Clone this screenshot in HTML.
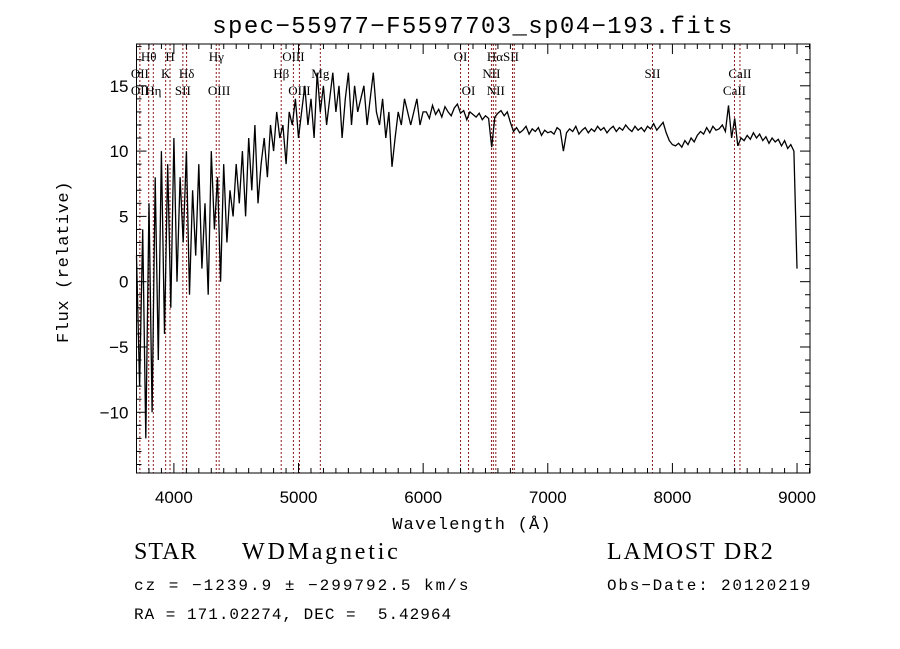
<!DOCTYPE html>
<html><head><meta charset="utf-8"><style>
body{margin:0;background:#fff;width:900px;height:649px;overflow:hidden}
svg{display:block}
text{fill:#000}
</style></head><body>
<svg id="c" width="900" height="649" xmlns="http://www.w3.org/2000/svg">
<text x="473" y="33" text-anchor="middle" font-family="Liberation Mono, monospace" font-size="24" letter-spacing="1.4">spec−55977−F5597703_sp04−193.fits</text>
<text x="472" y="529" text-anchor="middle" font-family="Liberation Mono, monospace" font-size="17" letter-spacing="1.2">Wavelength (Å)</text>
<text transform="translate(68,262) rotate(-90)" text-anchor="middle" font-family="Liberation Mono, monospace" font-size="17" letter-spacing="0.6">Flux (relative)</text>
<text x="134" y="559" font-family="Liberation Serif, serif" font-size="24" letter-spacing="1">STAR</text>
<text x="242" y="559" font-family="Liberation Serif, serif" font-size="24" letter-spacing="2.8">WDMagnetic</text>
<text x="607" y="559" font-family="Liberation Serif, serif" font-size="24" letter-spacing="1.8">LAMOST DR2</text>
<text x="134" y="590" font-family="Liberation Mono, monospace" font-size="16" letter-spacing="2">cz = −1239.9 ± −299792.5 km/s</text>
<text x="607" y="590" font-family="Liberation Mono, monospace" font-size="16" letter-spacing="1.8">Obs−Date: 20120219</text>
<text x="134" y="619" font-family="Liberation Mono, monospace" font-size="16" letter-spacing="1" xml:space="preserve">RA = 171.02274, DEC =  5.42964</text>
<g id="plot"></g>
</svg>
<script>
const wlStart = 3700, wlStep = 25;
const fluxBlue = [2,-8,4,-12,6,-10,8,-6,10,-4,9,-2,11,0,8,3,10,-1,7,2,9,1,6,-1,10,4,8,0,9,3,7,5,9];
const fluxGreen = [6,10,5,11,7,12,6,9,11,8,12,10,13,11,12,9,13,12,14,11,
13,15,12,14,11,16,13,15,12,14,16,13,15,11,14,16,12,15,13,14,15,12,14,16,13,12,14,11,13,8.8,11,13,12,14,13,12,13,14,12,13];
const fluxRed = [13,12.5,13.5,12.8,13.2,12.6,13.4,13,12.7,13.3,13.6,12.9,13.1,12.4,13,12.8,12.6,12.9,12.4,12.7,12.5,10.3,12.6,12.9,13.1,12.7,13,12.2,11.5,11.8,11.4,11.6,11.9,11.3,11.7,11.5,11.8,11.2,11.6,11.4,
11.5,11.3,11.8,11.6,10,11.4,11.7,11.5,11.9,11.3,11.6,11.8,11.4,11.7,11.5,11.9,11.6,11.8,11.4,11.7,11.9,11.5,11.8,11.6,12,11.7,11.5,11.9,11.6,11.8,11.5,11.9,11.7,12.1,11.6,11.9,12.2,11.4,10.8,10.5,
10.4,10.6,10.3,10.8,10.5,11,10.7,11.2,11.5,11.3,11.8,11.4,11.9,11.6,11.7,12,11.5,13.5,11,12.5,10.4,11,10.8,11.2,10.9,11.4,11,11.3,10.8,11.1,10.6,11,10.7,10.9,10.4,10.8,10.2,10.5,10,1];
const lineWl = [3727,3798,3835,3934,3969,4072,4102,4340,4363,4861,4959,5007,5175,6300,6364,6548,6563,6583,6717,6731,7840,8498,8542];
const lineLabels = [["Hθ",3798,0],["H",3969,0],["Hγ",4340,0],["OIII",4959,0],["OI",6300,0],["HαSII",6640,0],
["OII",3727,1],["K",3934,1],["Hδ",4102,1],["Hβ",4861,1],["Mg",5175,1],["NII",6548,1],["SII",7840,1],["CaII",8542,1],
["OII",3727,2],["Hη",3835,2],["SII",4072,2],["OIII",4363,2],["OIII",5007,2],["OI",6364,2],["NII",6583,2],["CaII",8498,2]];
const xTicks = [4000,5000,6000,7000,8000,9000];
const yTicks = [-10,-5,0,5,10,15];

const L=136.5,R=810,T=44,B=473;
const xMin=3700,xMax=9104,yMin=-14.65,yMax=18.2;
const X=w=>L+(w-xMin)/(xMax-xMin)*(R-L);
const Y=v=>B-(v-yMin)/(yMax-yMin)*(B-T);
const NS="http://www.w3.org/2000/svg";
const g=document.getElementById('plot');
function mk(t,a){const e=document.createElementNS(NS,t);for(const k in a)e.setAttribute(k,a[k]);g.appendChild(e);return e;}

lineWl.forEach(w=>{
 const e=mk('line',{x1:X(w),x2:X(w),y1:T,y2:B,stroke:'#8b1a1a','stroke-width':1,'stroke-dasharray':'2,2'});
 
 
});
const flux=fluxBlue.concat(fluxGreen,fluxRed);
let d='';
flux.forEach((v,i)=>{const x=X(wlStart+i*wlStep);d+=(i?'L':'M')+x.toFixed(1)+' '+Y(v).toFixed(1);});
const sp=mk('path',{d:d,fill:'none',stroke:'#000','stroke-width':1.3,'stroke-linejoin':'miter'});



const rowY=[61,78,95];
lineLabels.forEach(l=>{
 const t=mk('text',{x:X(l[1]),y:rowY[l[2]],'text-anchor':'middle','font-family':'Liberation Serif, serif','font-size':13});
 t.textContent=l[0];
 
 
});

const fr=mk('rect',{x:L,y:T,width:R-L,height:B-T,fill:'none',stroke:'#000','stroke-width':1});


for(let w=3800;w<=9100;w+=100){const maj=w%1000===0,len=maj?10:5;
 mk('line',{x1:X(w),x2:X(w),y1:B,y2:B-len,stroke:'#000'});mk('line',{x1:X(w),x2:X(w),y1:T,y2:T+len,stroke:'#000'});}
for(let v=-14;v<=18;v++){const maj=v%5===0,len=maj?10:5;
 mk('line',{x1:L,x2:L+len,y1:Y(v),y2:Y(v),stroke:'#000'});mk('line',{x1:R,x2:R-len,y1:Y(v),y2:Y(v),stroke:'#000'});}
xTicks.forEach(w=>{const t=mk('text',{x:X(w),y:B+30,'text-anchor':'middle','font-family':'Liberation Sans, sans-serif','font-size':17});t.textContent=w;
 
 });
yTicks.forEach(v=>{const t=mk('text',{x:L-8,y:Y(v)+6,'text-anchor':'end','font-family':'Liberation Sans, sans-serif','font-size':17});t.textContent=v<0?'−'+(-v):v;
 
 });
</script>
</body></html>
